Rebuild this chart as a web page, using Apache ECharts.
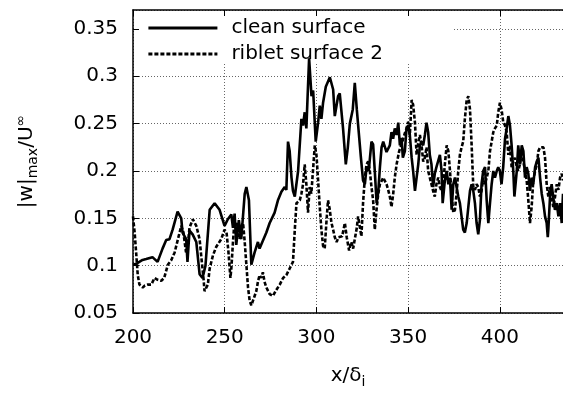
<!DOCTYPE html>
<html><head><meta charset="utf-8">
<script src="https://cdn.jsdelivr.net/npm/echarts@6/dist/echarts.min.js"></script>
<style>html,body{margin:0;padding:0;background:#fff}#c{width:563px;height:394px}</style>
</head><body><div id="c"></div>
<script>
var xTicks = [200, 250, 300, 350, 400];
var yTicks = [0.05, 0.1, 0.15, 0.2, 0.25, 0.3, 0.35];
var seriesNames = ['clean surface', 'riblet surface 2'];

var cleanX = [200,201.7,205.2,207.2,210.6,213.4,216.1,218.1,219.9,221.6,224.3,226.3,227,229,229.7,230.8,232.5,234.5,236.3,237.9,
239.5,241.8,244.5,247.2,249.9,251.7,253.6,254.5,255.4,256.3,257.7,259,260.9,261.8,263.2,264.5,266.3,268.1,269,272.7,274.5,277.2,279,280.9,281.8,282.7,283.6,284.5,285.4,286.4,287.2,288.2,290,291.8,292.7,293.6,294.5,296,297.3,298.2,299.6,300.9,301.8,302.7,303.6,305.1,307.3,309.1,310,311.8,312.7,314.5,316,317.1,318.2,319.8,320.9,322,323.1,324.2,325.4,326.4,327.4,328.5,330,330.9,331.8,332.8,333.7,334.6,335.5,336.4,338.2,340,340.9,341.8,342.7,343.7,344.6,345.5,346.4,347.1,348.2,349.1,350,350.9,351.9,352.7,353.7,354.6,355.5,356.4,357.3,358.2,359.1,360,360.9,361.8,362.7,363.6,364.5,365.4,367.3,368.2,368.8,370,371,371.9,372.8,373.7,374.6,375.5,376.4,377.3,378.2,379.1,380,380.9,381.9,382.8,383.7,384.6,385.5,386.4,387.3,388.2,389.1,390,390.9,391.9,392.8,393.7,394.6,395.5,396.4,397.3,398.3,399.1,400,400.9,401.8,402.8,403.7,404.6,405.5,406.4,407.3,407.9,409.2,410,411,411.9,412.8,413.7,414.6,415.5,416.4,417.3,418.2,419.2,420.1,421,421.9,422.8,423.7,424.6,425.5,426.1,426.4,427.3,428.2,429.1,430,431,431.9,432.8,433.7,434.4];
var cleanY = [0.101,0.102,0.106,0.107,0.109,0.104,0.118,0.127,0.128,0.138,0.157,0.150,0.135,0.128,0.104,0.137,0.133,0.125,0.091,0.087,
0.100,0.159,0.166,0.159,0.142,0.149,0.154,0.140,0.155,0.122,0.148,0.128,0.176,0.183,0.169,0.101,0.114,0.125,0.118,0.135,0.145,0.156,0.169,0.178,0.176,0.183,0.180,0.231,0.221,0.193,0.179,0.173,0.200,0.255,0.248,0.262,0.245,0.319,0.279,0.285,0.231,0.251,0.269,0.255,0.272,0.289,0.299,0.286,0.258,0.279,0.282,0.245,0.207,0.225,0.250,0.265,0.293,0.265,0.240,0.215,0.190,0.186,0.205,0.200,0.231,0.228,0.200,0.166,0.178,0.204,0.225,0.231,0.220,0.227,0.241,0.234,0.245,0.238,0.251,0.227,0.235,0.214,0.221,0.245,0.248,0.238,0.214,0.200,0.179,0.193,0.207,0.227,0.231,0.227,0.238,0.251,0.241,0.217,0.207,0.183,0.197,0.204,0.217,0.200,0.166,0.190,0.200,0.186,0.193,0.159,0.186,0.193,0.183,0.173,0.166,0.152,0.138,0.135,0.145,0.162,0.179,0.186,0.179,0.166,0.145,0.133,0.148,0.186,0.200,0.204,0.169,0.145,0.166,0.186,0.200,0.193,0.200,0.204,0.200,0.186,0.204,0.234,0.245,0.258,0.248,0.227,0.200,0.173,0.200,0.227,0.207,0.227,0.221,0.193,0.204,0.197,0.179,0.193,0.186,0.204,0.210,0.214,0.193,0.176,0.166,0.152,0.145,0.130,0.138,0.172,0.186,0.172,0.159,0.166,0.152,0.166,0.145,0.176];

var ribletX = [200,200.9,201.7,202.6,203.5,205.3,206.5,208.1,210,211.7,213.5,215.4,217,219,220.9,222.7,224.5,226.3,227.5,228.9,229.8,230.8,232.6,234.5,236.3,237.2,238.5,239,240.8,241.8,243.6,245.4,248.1,249.9,251,252,253.1,253.6,254.5,255.4,256.3,257.2,258.1,259,260,260.9,261.8,262.7,263.6,264.5,265.4,266.3,267.2,268.1,269,269.9,270.8,271.7,272.7,274.5,275.5,276.3,278,280,281.8,283.6,285.4,287.2,288.2,289.1,290.9,291.8,292.7,293.6,294.5,295.4,296.3,297.2,298.1,299.1,300,300.9,301.8,302.7,303.6,304.5,305.4,306.3,307.2,308.2,309.1,310,311,312,313,314,315.5,316.5,317.8,319,320,320.9,322,322.7,323.6,324.5,325.4,326.4,327.3,328.2,329.1,330,330.9,331.8,332.8,333.7,334.6,336.4,338.2,339.1,340,340.9,341.8,342.7,343.7,345.1,346.4,347.3,348.2,349.1,350,350.9,351.9,352.7,353.7,354.6,355.5,356.4,357.3,358.2,359.1,360,360.9,361.8,362.7,363.6,364.5,365.4,366.4,367.3,368.2,369.1,370,371,371.9,372.8,373.7,374.6,375.5,376.4,377.3,378.2,379.1,380,380.9,381.9,382.8,383.7,384.6,385.5,386.4,387.3,388.2,389.1,390,390.9,391.9,392.8,393.7,394.6,395.5,396.4,397.3,398.3,399.1,400,400.9,401.8,402.8,403.7,404.6,405.5,406.4,407.3,408.2,409.2,410,410.9,411.9,412.8,413.7,414.6,415.5,416.4,417.3,418.2,419.2,420.1,421,421.9,422.8,423.7,424.6,425.5,426.4,427.3,428.2,429.1,430,431,431.9,432.8,433.7,434.4];
var ribletY = [0.152,0.135,0.114,0.090,0.080,0.077,0.079,0.080,0.080,0.087,0.085,0.084,0.087,0.101,0.106,0.114,0.128,0.142,0.135,0.114,0.120,0.140,0.149,0.142,0.128,0.110,0.085,0.073,0.080,0.097,0.111,0.120,0.128,0.138,0.135,0.115,0.087,0.097,0.125,0.149,0.138,0.145,0.128,0.142,0.145,0.125,0.101,0.077,0.063,0.058,0.063,0.068,0.073,0.083,0.090,0.087,0.093,0.083,0.077,0.070,0.072,0.068,0.074,0.080,0.087,0.090,0.097,0.104,0.138,0.166,0.169,0.176,0.186,0.207,0.186,0.156,0.183,0.176,0.200,0.227,0.217,0.190,0.162,0.138,0.121,0.118,0.145,0.169,0.160,0.145,0.138,0.130,0.125,0.130,0.128,0.131,0.145,0.130,0.116,0.125,0.118,0.116,0.140,0.152,0.150,0.131,0.166,0.193,0.207,0.210,0.200,0.183,0.169,0.138,0.160,0.176,0.186,0.193,0.186,0.180,0.173,0.162,0.175,0.193,0.207,0.221,0.228,0.234,0.240,0.245,0.252,0.238,0.275,0.270,0.251,0.217,0.230,0.238,0.227,0.210,0.214,0.225,0.200,0.193,0.186,0.179,0.173,0.186,0.193,0.183,0.179,0.186,0.207,0.227,0.221,0.200,0.173,0.156,0.159,0.176,0.200,0.217,0.225,0.231,0.255,0.275,0.279,0.265,0.227,0.183,0.180,0.186,0.183,0.173,0.179,0.193,0.186,0.193,0.200,0.221,0.231,0.241,0.245,0.248,0.262,0.272,0.265,0.252,0.248,0.241,0.217,0.227,0.204,0.210,0.214,0.204,0.200,0.207,0.221,0.210,0.200,0.190,0.169,0.145,0.162,0.190,0.200,0.207,0.221,0.225,0.227,0.225,0.214,0.186,0.173,0.183,0.173,0.162,0.172,0.186,0.180,0.193,0.197,0.190];

function zip(a, b) { return a.map(function (v, i) { return [v, b[i]]; }); }

var FONT = 'DejaVu Sans';
var FS = 20;
var XMIN = 200, XMAX = 434.4, YMIN = 0.05, YMAX = 0.37;

var chart = echarts.init(document.getElementById('c'), null, {renderer: 'canvas'});
chart.setOption({
  animation: false,
  backgroundColor: '#fff',
  textStyle: {fontFamily: FONT},
  grid: {left: 133, top: 10, right: 0, bottom: 71},
  legend: {
    show: true, orient: 'vertical', left: 147, top: 17, padding: 0, itemWidth: 69, itemHeight: 14, itemGap: 4,
    data: [{name: seriesNames[0]}, {name: seriesNames[1]}],
    textStyle: {fontFamily: FONT, fontSize: FS, color: '#000', lineHeight: 22, padding: [0, 0, 0, 9]},
    itemStyle: {opacity: 0},
    lineStyle: {width: 2.8},
    z: 6
  },
  graphic: [{type: 'rect', z: 1, shape: {x: 134, y: 11, width: 319, height: 51}, style: {fill: '#fff'}}],
  xAxis: [
    {type: 'value', min: XMIN, max: XMAX, interval: 50, position: 'bottom', z: 5,
     axisLine: {show: true, onZero: false, lineStyle: {color: '#000', width: 1.5}},
     axisTick: {show: true, inside: true, length: 6, lineStyle: {color: '#000'}},
     axisLabel: {show: true, showMaxLabel: false, margin: 15, color: '#000', fontSize: FS, fontFamily: FONT,
       formatter: function (v) { return xTicks.indexOf(v) >= 0 ? String(v) : ''; }},
     splitLine: {show: false},
     name: '{a|x/δ}{s|i}', nameLocation: 'middle', nameGap: 50,
     nameTextStyle: {rich: {a: {fontSize: FS, fontFamily: FONT, color: '#000'}, s: {fontSize: 14, fontFamily: FONT, color: '#000', padding: [12, 0, 0, 0]}}}},
    {type: 'value', min: XMIN, max: XMAX, interval: 50, position: 'top', z: 5,
     axisLine: {show: true, onZero: false, lineStyle: {color: '#000', width: 1.5}},
     axisTick: {show: true, inside: true, length: 6, lineStyle: {color: '#000'}},
     axisLabel: {show: false}, splitLine: {show: false}},
    {type: 'value', min: XMIN, max: XMAX, interval: 50, position: 'bottom', z: 0,
     axisLine: {show: false}, axisTick: {show: false}, axisLabel: {show: false},
     splitLine: {show: true, lineStyle: {color: '#666', width: 1, type: [1, 2]}}}
  ],
  yAxis: [
    {type: 'value', min: YMIN, max: YMAX, interval: 0.05, position: 'left', z: 5,
     axisLine: {show: true, onZero: false, lineStyle: {color: '#000', width: 1.5}},
     axisTick: {show: true, inside: true, length: 6, lineStyle: {color: '#000'}},
     axisLabel: {show: true, showMaxLabel: false, margin: 15, color: '#000', fontSize: FS, fontFamily: FONT,
       formatter: function (v) { var r = Math.round(v * 100) / 100; return yTicks.indexOf(r) >= 0 ? String(r) : ''; }},
     splitLine: {show: false},
     name: '{a||w|}{s|max}{a|/U}{p|∞}', nameLocation: 'middle', nameGap: 93,
     nameTextStyle: {rich: {a: {fontSize: FS, fontFamily: FONT, color: '#000'},
       s: {fontSize: 14, fontFamily: FONT, color: '#000', padding: [12, 0, 0, 0]},
       p: {fontSize: 14, fontFamily: FONT, color: '#000', padding: [0, 0, 12, 0]}}}},
    {type: 'value', min: YMIN, max: YMAX, interval: 0.05, position: 'left', z: 0,
     axisLine: {show: false}, axisTick: {show: false}, axisLabel: {show: false},
     splitLine: {show: true, lineStyle: {color: '#666', width: 1, type: [1, 2]}}}
  ],
  series: [
    {name: seriesNames[0], type: 'line', xAxisIndex: 0, yAxisIndex: 0, data: zip(cleanX, cleanY),
     symbol: 'none', z: 3, lineStyle: {color: '#000', width: 2.6}, itemStyle: {color: '#000'}},
    {name: seriesNames[1], type: 'line', xAxisIndex: 0, yAxisIndex: 0, data: zip(ribletX, ribletY),
     symbol: 'none', z: 2, lineStyle: {color: '#000', width: 2.6, type: [4, 2]}, itemStyle: {color: '#000'}}
  ]
});
</script></body></html>
